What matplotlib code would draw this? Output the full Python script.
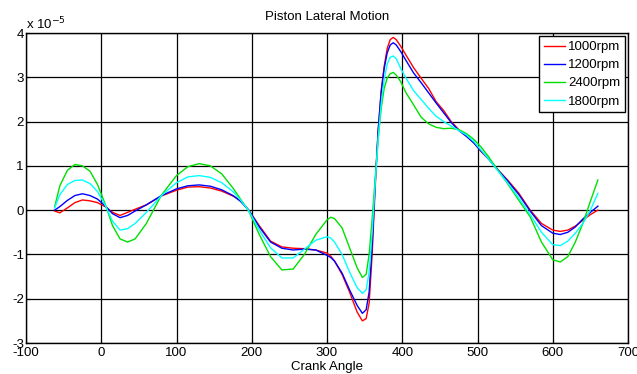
import matplotlib
matplotlib.use("Agg")
import matplotlib.pyplot as plt

plt.rcParams["font.family"] = ["Liberation Sans", "DejaVu Sans"]
plt.rcParams["axes.unicode_minus"] = False

# crank angle (deg) and lateral motion in units of 1e-5
angle = [-62, -55, -45, -35, -25, -15, -5, 5, 15, 25, 35, 45, 60, 80, 100,
         115, 130, 145, 160, 175, 185, 196, 210, 225, 240, 255, 270, 285,
         300, 305, 310, 320, 330, 340, 347, 352, 356, 360, 364, 368, 372,
         376, 380, 384, 388, 392, 398, 405, 415, 425, 435, 445, 455, 465,
         475, 485, 495, 505, 515, 525, 540, 555, 570, 585, 600, 610, 620,
         630, 640, 650, 660]

rpm1000 = [-0.02, -0.06, 0.05, 0.17, 0.23, 0.21, 0.17, 0.08, -0.05, -0.12,
           -0.05, 0.02, 0.12, 0.32, 0.45, 0.52, 0.53, 0.50, 0.43, 0.32, 0.22,
           0.0, -0.35, -0.70, -0.83, -0.86, -0.87, -0.90, -0.97, -1.04,
           -1.15, -1.45, -1.85, -2.30, -2.50, -2.45, -2.10, -1.0, 0.5, 1.8,
           2.7, 3.25, 3.65, 3.85, 3.90, 3.85, 3.70, 3.50, 3.22, 2.98, 2.75,
           2.45, 2.25, 2.00, 1.82, 1.68, 1.52, 1.32, 1.15, 0.95, 0.68, 0.38,
           0.0, -0.30, -0.45, -0.48, -0.45, -0.36, -0.23, -0.10, 0.0]

rpm1200 = [0.0, 0.08, 0.22, 0.33, 0.37, 0.33, 0.25, 0.10, -0.08, -0.17,
           -0.12, -0.02, 0.12, 0.33, 0.48, 0.55, 0.57, 0.54, 0.46, 0.33, 0.20,
           0.0, -0.38, -0.72, -0.86, -0.90, -0.88, -0.90, -1.02, -1.07,
           -1.15, -1.42, -1.80, -2.15, -2.33, -2.25, -1.85, -0.8, 0.6, 1.8,
           2.65, 3.2, 3.55, 3.73, 3.78, 3.73, 3.58, 3.38, 3.10, 2.88, 2.65,
           2.42, 2.20, 1.98, 1.80, 1.67, 1.52, 1.33, 1.15, 0.95, 0.66, 0.35,
           -0.02, -0.35, -0.52, -0.55, -0.50, -0.38, -0.20, -0.05, 0.09]

rpm2400 = [0.07, 0.55, 0.90, 1.03, 1.00, 0.88, 0.58, 0.15, -0.35, -0.65,
           -0.72, -0.65, -0.30, 0.34, 0.78, 0.98, 1.05, 1.00, 0.82, 0.50,
           0.25, -0.02, -0.55, -1.05, -1.35, -1.33, -1.00, -0.55, -0.22,
           -0.16, -0.19, -0.40, -0.85, -1.30, -1.52, -1.45, -1.0, -0.2, 0.7,
           1.6, 2.3, 2.75, 2.98, 3.08, 3.11, 3.05, 2.90, 2.65, 2.38, 2.10,
           1.95, 1.87, 1.84, 1.85, 1.82, 1.73, 1.60, 1.42, 1.20, 0.95, 0.60,
           0.22, -0.15, -0.72, -1.12, -1.17, -1.05, -0.72, -0.30, 0.20, 0.68]

rpm1800 = [0.05, 0.35, 0.58, 0.67, 0.68, 0.60, 0.42, 0.12, -0.25, -0.45,
           -0.42, -0.30, -0.05, 0.33, 0.62, 0.75, 0.78, 0.74, 0.62, 0.42,
           0.23, -0.01, -0.45, -0.85, -1.08, -1.08, -0.88, -0.68, -0.60,
           -0.63, -0.72, -1.00, -1.40, -1.75, -1.88, -1.80, -1.40, -0.5, 0.6,
           1.6, 2.4, 2.95, 3.3, 3.45, 3.48, 3.42, 3.20, 2.98, 2.70, 2.50,
           2.30, 2.12, 2.00, 1.90, 1.80, 1.70, 1.55, 1.35, 1.15, 0.93, 0.62,
           0.27, -0.10, -0.50, -0.78, -0.80, -0.70, -0.52, -0.30, 0.0, 0.38]

series = [("1000rpm", rpm1000, "#ff0000"),
          ("1200rpm", rpm1200, "#0000ff"),
          ("2400rpm", rpm2400, "#00e000"),
          ("1800rpm", rpm1800, "#00ffff")]

xticks = [-100, 0, 100, 200, 300, 400, 500, 600, 700]
yticks = [-3, -2, -1, 0, 1, 2, 3, 4]

fs = 9.5
fig = plt.figure(figsize=(6.37, 3.74), dpi=100)
ax = fig.add_axes([26 / 637, 31 / 374, 602 / 637, 310 / 374])

for name, vals, col in series:
    ax.plot(angle, vals, color=col, lw=1.0, label=name)

ax.set_xlim(-100, 700)
ax.set_ylim(-3, 4)
ax.set_xticks(xticks)
ax.set_yticks(yticks)
ax.grid(True, color="black", lw=0.9)
ax.tick_params(direction="in", length=3, labelsize=fs, pad=1.5)
ax.tick_params(axis="x", pad=3)
for s in ax.spines.values():
    s.set_linewidth(1.0)

ax.set_title("Piston Lateral Motion", fontsize=fs, pad=9)
ax.set_xlabel("Crank Angle", fontsize=fs, labelpad=1)
fig.text(26 / 637, 1 - 24 / 374, r"x 10$^{-5}$", fontsize=fs, va="center", ha="left")

leg = ax.legend(loc="upper right", fontsize=fs, fancybox=False, framealpha=1,
                edgecolor="black", borderaxespad=0.25, handlelength=1.6,
                labelspacing=0.45, borderpad=0.35, handletextpad=0.2)
leg.get_frame().set_linewidth(1.0)

fig.savefig("out.png", dpi=100)
